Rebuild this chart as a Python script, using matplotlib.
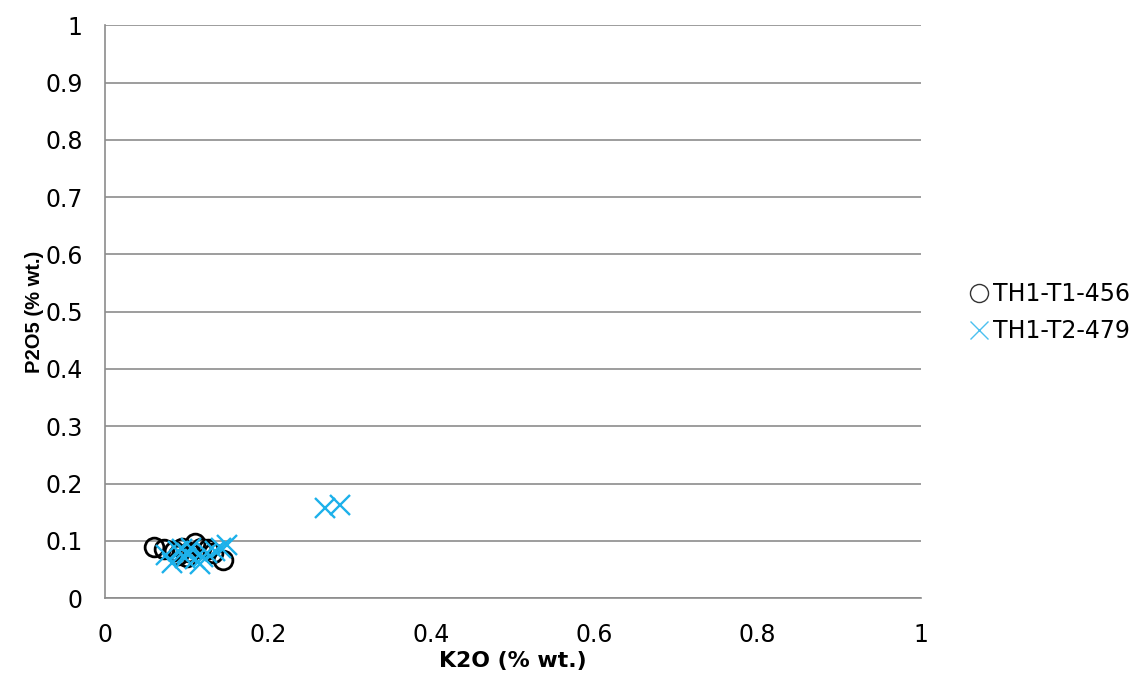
import matplotlib.pyplot as plt
from matplotlib.lines import Line2D
import numpy as np

plt.rcParams['font.family'] = ['DejaVu Sans']

# TH1-T1-456 (open circles)
k2o_t1 = [0.060, 0.072, 0.085, 0.095, 0.103, 0.110, 0.118, 0.126, 0.132, 0.145, 0.100, 0.090]
p2o5_t1 = [0.089, 0.086, 0.082, 0.088, 0.080, 0.097, 0.088, 0.086, 0.078, 0.066, 0.072, 0.076]

# TH1-T2-479 (crosses)
k2o_t2 = [0.075, 0.082, 0.090, 0.095, 0.100, 0.105, 0.110, 0.116, 0.120, 0.125, 0.135, 0.142, 0.150, 0.098, 0.270, 0.288]
p2o5_t2 = [0.075, 0.062, 0.082, 0.085, 0.078, 0.088, 0.068, 0.060, 0.072, 0.079, 0.082, 0.088, 0.092, 0.070, 0.157, 0.163]

labels = ['TH1-T1-456', 'TH1-T2-479']
blue = '#1DB1EA'

fig = plt.figure(figsize=(11.41, 6.82), dpi=100)
ax = fig.add_axes([0.092, 0.123, 0.715, 0.840])

ax.plot(k2o_t1, p2o5_t1, linestyle='none', marker='o', markersize=13.5,
        markerfacecolor='none', markeredgecolor='black', markeredgewidth=2.0)
ax.plot(k2o_t2, p2o5_t2, linestyle='none', marker='x', markersize=14,
        color=blue, markeredgewidth=1.7)

ax.set_xlim(0, 1)
ax.set_ylim(0, 1)
ax.set_xticks(np.arange(0, 1.01, 0.2))
ax.set_xticklabels(['0', '0.2', '0.4', '0.6', '0.8', '1'])
ax.set_yticks(np.arange(0, 1.01, 0.1))
ax.set_yticklabels(['0', '0.1', '0.2', '0.3', '0.4', '0.5', '0.6', '0.7', '0.8', '0.9', '1'])
ax.yaxis.grid(True, color='#8c8c8c', linewidth=1.2)
ax.set_axisbelow(True)
for s in ['top', 'right']:
    ax.spines[s].set_visible(False)
for s in ['left', 'bottom']:
    ax.spines[s].set_color('#8c8c8c')
    ax.spines[s].set_linewidth(1.2)
ax.tick_params(length=0, labelsize=17)
ax.tick_params(axis='y', pad=16)
ax.tick_params(axis='x', pad=18)

ax.set_xlabel('K2O (% wt.)', fontsize=15.8, fontweight='bold', labelpad=3)
ax.set_ylabel('P2O5 (% wt.)', fontsize=14.5, fontweight='bold', labelpad=1,
              family='Liberation Sans')

handles = [
    Line2D([], [], linestyle='none', marker='o', markersize=13, markerfacecolor='none',
           markeredgecolor='#333333', markeredgewidth=1.0),
    Line2D([], [], linestyle='none', marker='x', markersize=13, color='#4CC0F0',
           markeredgewidth=1.0),
]
fig.legend(handles, labels, loc='center left', bbox_to_anchor=(0.8477, 0.5418),
           frameon=False, fontsize=17, handlelength=1.0, handletextpad=0.1,
           labelspacing=0.55, borderpad=0, borderaxespad=0)

plt.savefig('out.png', dpi=100)
